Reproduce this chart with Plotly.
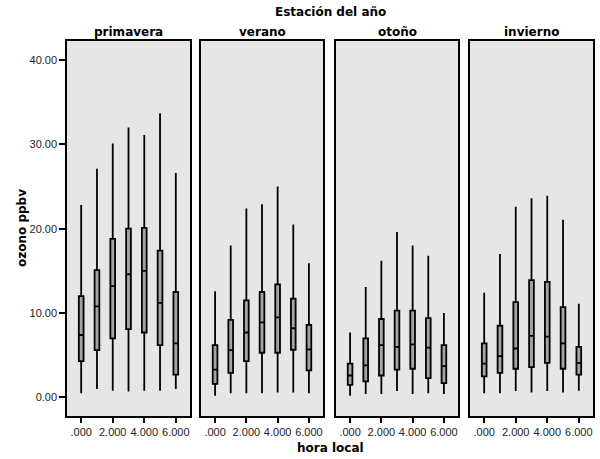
import plotly.graph_objects as go

hours = [0, 1, 2, 3, 4, 5, 6]
seasons = ["primavera", "verano", "otoño", "invierno"]

low = {
    "primavera": [0.5, 1.0, 0.8, 0.7, 0.8, 0.8, 1.0],
    "verano":    [0.2, 0.5, 0.5, 0.5, 0.6, 0.6, 0.5],
    "otoño":     [0.2, 0.4, 0.4, 0.75, 0.4, 0.5, 0.4],
    "invierno":  [0.5, 0.5, 0.75, 0.6, 0.75, 0.6, 0.8],
}
q1 = {
    "primavera": [4.3, 5.6, 7.0, 8.1, 7.7, 6.2, 2.7],
    "verano":    [1.6, 2.9, 4.3, 5.3, 5.3, 5.65, 3.2],
    "otoño":     [1.5, 1.9, 2.6, 3.3, 3.4, 2.3, 1.7],
    "invierno":  [2.5, 2.9, 3.4, 3.6, 4.1, 3.4, 2.7],
}
median = {
    "primavera": [7.4, 10.8, 13.2, 14.6, 15.0, 11.2, 6.4],
    "verano":    [3.3, 5.6, 7.7, 8.9, 9.5, 8.2, 5.7],
    "otoño":     [2.6, 3.8, 6.2, 6.0, 6.3, 5.9, 3.7],
    "invierno":  [4.0, 4.9, 5.8, 7.3, 7.2, 6.4, 4.1],
}
q3 = {
    "primavera": [12.0, 15.1, 18.8, 20.0, 20.1, 17.4, 12.5],
    "verano":    [6.2, 9.2, 11.5, 12.5, 13.4, 11.7, 8.6],
    "otoño":     [4.0, 7.0, 9.3, 10.3, 10.3, 9.4, 6.2],
    "invierno":  [6.4, 8.5, 11.3, 13.9, 13.7, 10.7, 6.0],
}
high = {
    "primavera": [22.8, 27.1, 30.1, 32.0, 31.1, 33.7, 26.6],
    "verano":    [12.6, 18.0, 22.4, 22.9, 25.0, 20.5, 15.9],
    "otoño":     [7.7, 13.1, 16.2, 19.6, 18.0, 16.8, 10.0],
    "invierno":  [12.4, 17.0, 22.6, 23.6, 23.9, 21.05, 11.1],
}

x_tickvals = [0, 2, 4, 6]
x_ticktext = [".000", "2.000", "4.000", "6.000"]
y_tickvals = [0, 10, 20, 30, 40]
y_ticktext = ["0.00", "10.00", "20.00", "30.00", "40.00"]

W, H = 600, 459
panels_px = [(67, 190), (201, 323), (336, 458), (470, 593)]
top_px, bot_px = 41, 416
ydom = [1 - bot_px / H, 1 - top_px / H]

fig = go.Figure()
tick_font = dict(family="Liberation Sans, Arial", size=11, color="#222222")

for i, s in enumerate(seasons):
    n = "" if i == 0 else str(i + 1)
    fig.add_trace(go.Box(
        x=hours, q1=q1[s], median=median[s], q3=q3[s],
        lowerfence=low[s], upperfence=high[s],
        boxpoints=False, width=0.3, whiskerwidth=0,
        fillcolor="#a4a4a4", line=dict(color="black", width=1.8),
        xaxis="x" + n, yaxis="y" + n, showlegend=False, hoverinfo="skip",
    ))
    l, r = panels_px[i]
    fig.layout["xaxis" + n] = dict(
        domain=[l / W, r / W], range=[-0.9, 6.9], anchor="y" + n,
        tickvals=x_tickvals, ticktext=x_ticktext, ticks="outside",
        ticklen=5, tickwidth=1.5, tickcolor="black", tickfont=tick_font,
        showline=True, mirror=True, linecolor="black", linewidth=1.5,
        showgrid=False, zeroline=False, fixedrange=True,
    )
    ycfg = dict(
        domain=ydom, range=[-2.2, 42.25], anchor="x" + n,
        showline=True, mirror=True, linecolor="black", linewidth=1.5,
        showgrid=False, zeroline=False,
    )
    if i == 0:
        ycfg.update(tickvals=y_tickvals, ticktext=y_ticktext, ticks="outside",
                    ticklen=6, tickwidth=1.5, tickcolor="black", tickfont=tick_font)
    else:
        ycfg.update(matches="y", showticklabels=False, ticks="")
    fig.layout["yaxis" + n] = ycfg

title_font = dict(family="DejaVu Sans", size=12, color="black")
ann = [
    dict(text="<b>Estación del año</b>", x=330 / W, y=1 - 12 / H),
    dict(text="<b>hora local</b>", x=330 / W, y=1 - 448 / H),
]
for i, s in enumerate(seasons):
    l, r = panels_px[i]
    ann.append(dict(text="<b>%s</b>" % s, x=(l + r) / 2 / W, y=1 - 32 / H))
for a in ann:
    a.update(xref="paper", yref="paper", showarrow=False, font=title_font,
             xanchor="center", yanchor="middle")
    fig.add_annotation(**a)
fig.add_annotation(text="<b>ozono ppbv</b>", x=22 / W, y=1 - 228 / H, xref="paper",
                   yref="paper", showarrow=False, textangle=-90, font=title_font,
                   xanchor="center", yanchor="middle")

fig.update_layout(
    width=W, height=H, margin=dict(l=0, r=0, t=0, b=0),
    plot_bgcolor="#e6e6e6", paper_bgcolor="white",
)
fig.write_html("out.html")
